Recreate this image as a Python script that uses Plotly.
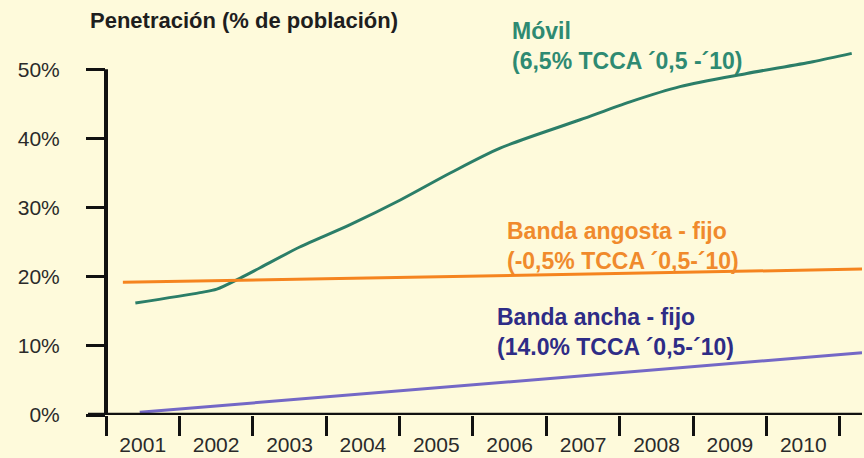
import plotly.graph_objects as go

# datos (x en años fraccionarios, y en % de poblacion)
anos = list(range(2001, 2011))
bordes = [a - 0.5 for a in range(2001, 2012)]
y_ticks = [0, 10, 20, 30, 40, 50]

movil_x = [2000.90, 2001.78, 2002.01, 2002.33, 2002.60, 2003.14, 2003.82, 2004.51,
           2005.19, 2005.87, 2006.96, 2007.64, 2008.32, 2009.23, 2010.13, 2010.66]
movil_y = [16.2, 17.7, 18.2, 19.8, 21.3, 24.3, 27.5, 31.1,
           35.0, 38.6, 42.7, 45.3, 47.5, 49.4, 51.1, 52.3]

angosta_x = [2000.73, 2010.80]
angosta_y = [19.2, 21.1]

ancha_x = [2000.96, 2010.80]
ancha_y = [0.4, 9.0]

etiquetas = [
    ("Móvil<br>(6,5% TCCA ´0,5 -´10)", 2006.0, 53.4, "#2E8A72"),
    ("Banda angosta - fijo<br>(-0,5% TCCA ´0,5-´10)", 2005.94, 24.4, "#F08A2C"),
    ("Banda ancha - fijo<br>(14.0% TCCA ´0,5-´10)", 2005.80, 12.0, "#2E2C86"),
]

bg = "#FEFADB"
fuente = "Liberation Sans, Arial, sans-serif"

fig = go.Figure()

fig.add_trace(go.Scatter(x=movil_x, y=movil_y, mode="lines",
                         line=dict(color="#2B7E68", width=3, shape="spline", smoothing=0.8)))
fig.add_trace(go.Scatter(x=angosta_x, y=angosta_y, mode="lines",
                         line=dict(color="#F5841F", width=3)))
fig.add_trace(go.Scatter(x=ancha_x, y=ancha_y, mode="lines",
                         line=dict(color="#7468C6", width=3)))

# ejes dibujados a mano
fig.add_shape(type="line", xref="paper", yref="y", x0=-18/756, x1=1, y0=0, y1=0,
              line=dict(color="#111", width=4.5))
fig.add_shape(type="line", xref="paper", yref="y", x0=0, x1=0, y0=0, y1=50,
              line=dict(color="#111", width=4))

for texto, x, y, color in etiquetas:
    fig.add_annotation(x=x, y=y, xref="x", yref="y", text="<b>" + texto + "</b>",
                       showarrow=False, xanchor="left", yanchor="middle", align="left",
                       font=dict(size=23, color=color, family=fuente))

fig.add_annotation(x=-18/756, y=395/375, xref="paper", yref="paper",
                   text="<b>Penetración (% de población)</b>", showarrow=False,
                   xanchor="left", yanchor="middle",
                   font=dict(size=22, color="#1E1E1E", family=fuente))

fig.update_layout(
    width=864, height=458,
    margin=dict(l=106, r=2, t=40, b=43),
    paper_bgcolor=bg, plot_bgcolor=bg,
    showlegend=False,
    font=dict(family=fuente, size=21, color="#2A2A2A"),
    xaxis=dict(range=[2000.5, 2010.8], tickvals=anos, ticktext=[str(a) for a in anos],
               ticks="outside", ticklen=11, tickcolor="rgba(0,0,0,0)", automargin=False,
               tickfont=dict(size=21),
               showgrid=False, zeroline=False, showline=False,
               minor=dict(tickvals=bordes, ticks="outside", ticklen=20, tickwidth=2.5,
                          tickcolor="#111", showgrid=False)),
    yaxis=dict(range=[0, 54.24], tickvals=y_ticks, ticktext=[f"{v}%" for v in y_ticks],
               ticks="outside", ticklen=19, tickwidth=2.5, tickcolor="#111",
               ticklabelstandoff=22, automargin=False,
               showgrid=False, zeroline=False, showline=False),
)

fig.write_html("out.html", post_script="document.body.style.margin='0px';",
               config={"displayModeBar": False})
